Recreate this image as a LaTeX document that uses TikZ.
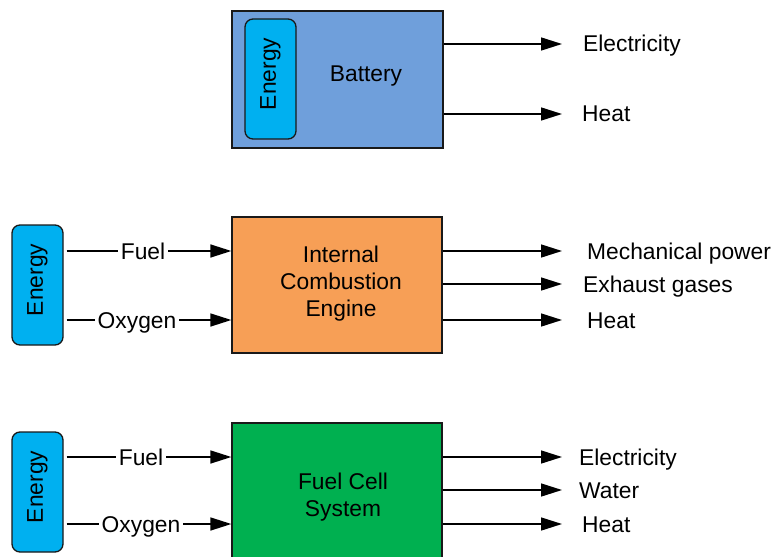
\documentclass[tikz,border=0pt]{standalone}
\usepackage{fontspec}
\setmainfont{Liberation Sans}
\usetikzlibrary{arrows.meta,calc}
\definecolor{batblue}{HTML}{6F9FDB}
\definecolor{ecyan}{HTML}{00B0F0}
\definecolor{iceorange}{HTML}{F79F56}
\definecolor{fcgreen}{HTML}{00B050}
\begin{document}
\begin{tikzpicture}[x=1pt,y=-1pt,
  every node/.style={font=\fontsize{22.8}{27}\selectfont},
  box/.style={draw=black!90, line width=1.3pt, inner sep=0pt},
  energy/.style={draw=black!90, line width=1.3pt, fill=ecyan, rounded corners=8pt,
    minimum width=51pt, minimum height=120pt, inner sep=0pt},
  arr/.style={line width=1.5pt, -{Triangle[length=21pt,width=13pt]}},
  inarr/.style={arr, shorten <=3pt},
  lbl/.style={anchor=west, inner sep=0pt, text height=16pt, text depth=0pt},
  inl/.style={fill=white, inner xsep=3pt, inner ysep=5pt, text height=16pt, text depth=0pt},
  ctext/.style={align=center, inner sep=0pt}]
\useasboundingbox (0,0) rectangle (775,556);
\clip (0,0) rectangle (775,556);
\fill[white] (0,0) rectangle (775,556);

% ---------- Battery ----------
\node[box, fill=batblue, minimum width=211pt, minimum height=137pt] (bat) at (337.5,79.5) {};
\node[energy] (be) at (270.5,79) {\rotatebox{90}{\hspace{10pt}Energy}};
\node[ctext] (btxt) at (366,76.5) {Battery};
\coordinate (bt1) at (562,44);
\coordinate (bt2) at (562,114);
\draw[arr] (bat.east |- bt1) -- (bt1);
\draw[arr] (bat.east |- bt2) -- (bt2);
\node[lbl] (bo1) at (583,44) {Electricity};
\node[lbl] (bo2) at (582,114) {Heat};

% ---------- Internal combustion engine ----------
\node[box, fill=iceorange, minimum width=210pt, minimum height=136pt] (ice) at (337,285) {};
\node[ctext] (icetxt) at (341,283.5) {Internal\\Combustion\\Engine};
\node[energy] (ie) at (37.5,285) {\rotatebox{90}{\hspace{10pt}Energy}};
\coordinate (iy1) at (0,251);
\coordinate (iy2) at (0,320);
\draw[inarr] (ie.east |- iy1) -- (ice.west |- iy1);
\draw[inarr] (ie.east |- iy2) -- (ice.west |- iy2);
\node[inl] (ifuel) at (143,251) {Fuel};
\node[inl] (ioxy) at (137,320) {Oxygen};
\coordinate (it1) at (562,251);
\coordinate (it2) at (562,284);
\coordinate (it3) at (562,320);
\draw[arr] (ice.east |- it1) -- (it1);
\draw[arr] (ice.east |- it2) -- (it2);
\draw[arr] (ice.east |- it3) -- (it3);
\node[lbl] (io1) at (587,251) {Mechanical power};
\node[lbl] (io2) at (583,284) {Exhaust gases};
\node[lbl] (io3) at (587,320) {Heat};

% ---------- Fuel cell system ----------
\node[box, fill=fcgreen, minimum width=210pt, minimum height=152pt] (fc) at (337,499) {};
\node[ctext] (fctxt) at (343,497) {Fuel Cell\\System};
\node[energy] (fe) at (37.5,492) {\rotatebox{90}{\hspace{10pt}Energy}};
\coordinate (fy1) at (0,457);
\coordinate (fy2) at (0,524);
\draw[inarr] (fe.east |- fy1) -- (fc.west |- fy1);
\draw[inarr] (fe.east |- fy2) -- (fc.west |- fy2);
\node[inl] (ffuel) at (141,457) {Fuel};
\node[inl] (foxy) at (141,524) {Oxygen};
\coordinate (ft1) at (562,457);
\coordinate (ft2) at (562,490);
\coordinate (ft3) at (562,524);
\draw[arr] (fc.east |- ft1) -- (ft1);
\draw[arr] (fc.east |- ft2) -- (ft2);
\draw[arr] (fc.east |- ft3) -- (ft3);
\node[lbl] (fo1) at (579,457) {Electricity};
\node[lbl] (fo2) at (579,490) {Water};
\node[lbl] (fo3) at (582,524) {Heat};
\end{tikzpicture}
\end{document}
